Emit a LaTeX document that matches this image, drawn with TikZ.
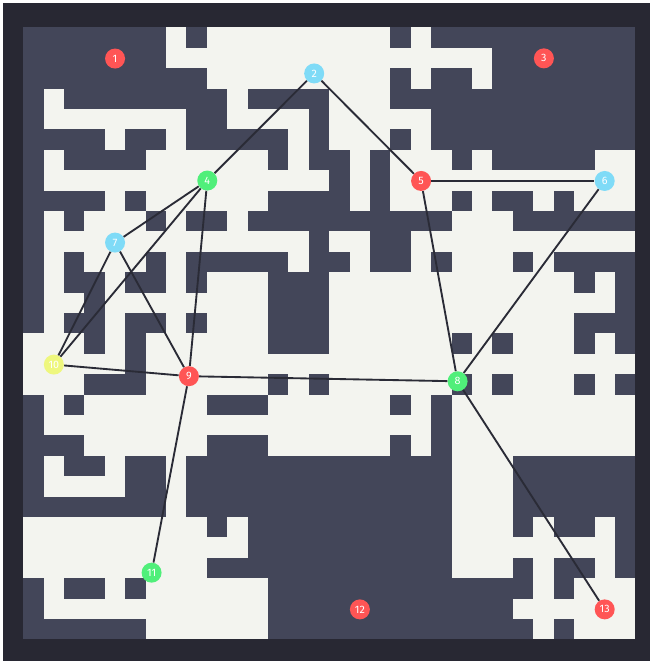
\documentclass[tikz,border=0pt]{standalone}
\usepackage{fontspec}
\setsansfont{Fira Sans}
\definecolor{frame}{HTML}{282833}
\definecolor{wall}{HTML}{434659}
\definecolor{floor}{HTML}{F3F4EF}
\definecolor{edge}{HTML}{2A2B36}
\definecolor{nred}{HTML}{FF5555}
\definecolor{ncyan}{HTML}{7FDBF7}
\definecolor{ngreen}{HTML}{50EF7A}
\definecolor{nyellow}{HTML}{EEF77E}
\tikzset{
  room/.style={circle,fill=#1,text=white,inner sep=0pt,minimum size=0.49cm,
    font=\sffamily\fontsize{7.5}{8}\selectfont},
  link/.style={draw=edge,line width=1.3pt}
}
\begin{document}
\begin{tikzpicture}[x=0.5cm,y=-0.5cm]
  \useasboundingbox (-1.14,-1.34) rectangle (30.72,31.06);
  \fill[frame] (-1.0,-1.2) rectangle (30.72,31.06);
  \fill[floor] (0,0) rectangle (30,30);
  \foreach \r/\a/\b in {0/0/6, 0/8/8, 0/18/18, 0/20/29,
      1/0/6, 1/23/29,
      2/0/8, 2/18/18, 2/20/21, 2/23/29,
      3/0/0, 3/2/9, 3/11/14, 3/18/29,
      4/0/0, 4/8/9, 4/14/14, 4/20/29,
      5/0/3, 5/5/6, 5/8/12, 5/14/14, 5/18/18, 5/20/29,
      6/0/0, 6/2/5, 6/12/12, 6/14/15, 6/17/17, 6/21/21, 6/23/27,
      7/0/0, 7/15/15, 7/17/17,
      8/0/3, 8/5/5, 8/12/15, 8/17/17, 8/21/21, 8/23/24, 8/26/26,
      9/0/0, 9/2/2, 9/6/6, 9/8/9, 9/11/20, 9/24/29,
      10/0/0, 10/14/14, 10/17/18,
      11/0/0, 11/2/2, 11/6/6, 11/8/12, 11/14/15, 11/17/18, 11/20/20, 11/24/24, 11/26/29,
      12/0/0, 12/2/3, 12/5/6, 12/8/8, 12/12/14, 12/27/27, 12/29/29,
      13/0/0, 13/3/3, 13/12/14, 13/29/29,
      14/0/0, 14/2/3, 14/5/6, 14/8/8, 14/12/14, 14/27/29,
      15/3/3, 15/5/5, 15/12/14, 15/21/21, 15/23/23, 15/27/27, 15/29/29,
      16/5/5,
      17/3/5, 17/12/12, 17/14/14, 17/21/21, 17/23/23, 17/27/27, 17/29/29,
      18/0/0, 18/2/2, 18/9/11, 18/18/18, 18/20/20,
      19/0/0, 19/20/20,
      20/0/2, 20/9/11, 20/18/18, 20/20/20,
      21/0/0, 21/2/3, 21/5/6, 21/8/20, 21/24/29,
      22/0/0, 22/5/6, 22/8/20, 22/24/29,
      23/0/6, 23/8/20, 23/24/29,
      24/9/9, 24/11/20, 24/24/24, 24/26/27, 24/29/29,
      25/11/20, 25/29/29,
      26/9/20, 26/24/24, 26/26/27, 26/29/29,
      27/0/0, 27/2/3, 27/5/5, 27/12/24, 27/26/26,
      28/0/0, 28/12/23,
      29/0/5, 29/12/24, 29/26/26}
    \fill[wall] (\a,\r) rectangle (\b+1,\r+1);
  \node[room=nred] (v1) at (4.5,1.53) {1};
  \node[room=ncyan] (v2) at (14.26,2.26) {2};
  \node[room=nred] (v3) at (25.52,1.52) {3};
  \node[room=ngreen] (v4) at (9.02,7.51) {4};
  \node[room=nred] (v5) at (19.5,7.53) {5};
  \node[room=ncyan] (v6) at (28.5,7.53) {6};
  \node[room=ncyan] (v7) at (4.5,10.55) {7};
  \node[room=ngreen] (v8) at (21.29,17.35) {8};
  \node[room=nred] (v9) at (8.12,17.1) {9};
  \node[room=nyellow] (v10) at (1.5,16.53) {10};
  \node[room=ngreen] (v11) at (6.29,26.73) {11};
  \node[room=nred] (v12) at (16.5,28.53) {12};
  \node[room=nred] (v13) at (28.5,28.53) {13};
  \draw[link] (v2) -- (v4);
  \draw[link] (v2) -- (v5);
  \draw[link] (v5) -- (v6);
  \draw[link] (v5) -- (v8);
  \draw[link] (v6) -- (v8);
  \draw[link] (v4) -- (v7);
  \draw[link] (v4) -- (v10);
  \draw[link] (v4) -- (v9);
  \draw[link] (v7) -- (v10);
  \draw[link] (v7) -- (v9);
  \draw[link] (v10) -- (v9);
  \draw[link] (v9) -- (v8);
  \draw[link] (v9) -- (v11);
  \draw[link] (v8) -- (v13);
\end{tikzpicture}
\end{document}
